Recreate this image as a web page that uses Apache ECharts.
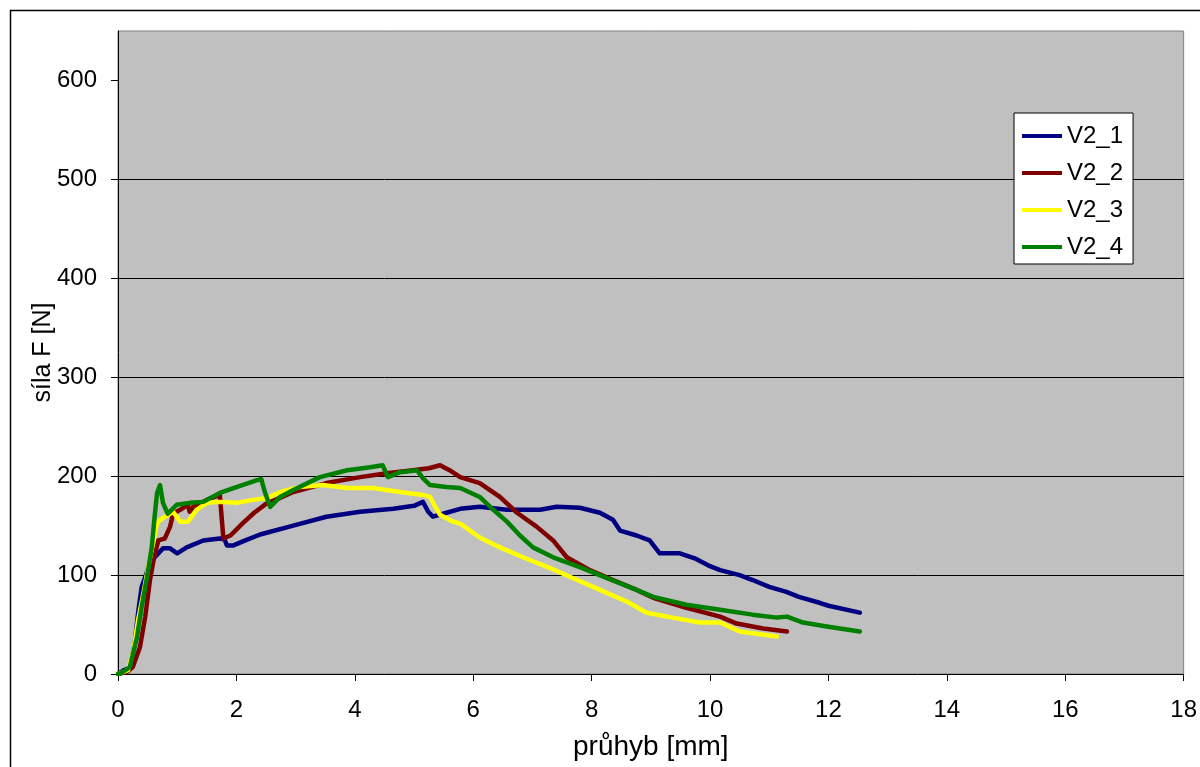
<!DOCTYPE html>
<html>
<head>
<meta charset="utf-8">
<script src="https://cdn.jsdelivr.net/npm/echarts@6/dist/echarts.min.js"></script>
<style>
html,body{margin:0;padding:0;background:#fff;}
#chart{width:1200px;height:767px;}
</style>
</head>
<body>
<div id="chart"></div>
<script>
const seriesNames = ['V2_1', 'V2_2', 'V2_3', 'V2_4'];
const seriesColors = ['#000080', '#800000', '#FFFF00', '#008000'];

const v21x = [0, 0.1, 0.2, 0.28, 0.34, 0.4, 0.5, 0.62, 0.76, 0.88, 1.0, 1.16, 1.44, 1.72, 1.8, 1.84, 1.95, 2.11, 2.4, 2.96, 3.52, 4.09, 4.65, 5.0, 5.15, 5.24, 5.32, 5.55, 5.78, 6.11, 6.57, 7.13, 7.41, 7.8, 8.14, 8.36, 8.48, 8.76, 8.98, 9.15, 9.49, 9.74, 10.0, 10.17, 10.5, 10.72, 11.0, 11.29, 11.5, 11.85, 12.0, 12.53];
const v21y = [0, 4, 6, 30, 62, 88, 105, 118, 127, 127, 122, 128, 135, 137, 136, 130, 130, 134, 141, 150, 159, 164, 167, 170, 174, 164, 159, 163, 167, 169, 166, 166, 169, 168, 163, 156, 145, 140, 135, 122, 122, 117, 109, 105, 100, 95, 88, 83, 78, 72, 69, 62];

const v22x = [0, 0.15, 0.25, 0.37, 0.46, 0.54, 0.6, 0.68, 0.79, 0.88, 0.93, 1.05, 1.18, 1.21, 1.27, 1.5, 1.72, 1.78, 1.9, 2.1, 2.3, 2.5, 2.7, 2.96, 3.52, 4.09, 4.54, 4.98, 5.25, 5.44, 5.6, 5.78, 6.11, 6.45, 6.74, 7.07, 7.35, 7.58, 7.97, 8.36, 8.76, 9.04, 9.6, 10.17, 10.45, 10.9, 11.3];
const v22y = [0, 2, 7, 27, 58, 95, 115, 135, 137, 149, 162, 166, 171, 164, 169, 176, 181, 137, 140, 152, 163, 172, 177, 184, 193, 199, 203, 206, 208, 211, 206, 199, 193, 179, 163, 149, 135, 118, 105, 95, 85, 77, 67, 58, 51, 46, 43];

const v23x = [0, 0.03, 0.17, 0.26, 0.34, 0.43, 0.51, 0.6, 0.66, 0.7, 0.79, 0.93, 1.05, 1.18, 1.33, 1.5, 1.72, 2.0, 2.28, 2.52, 2.74, 3.07, 3.46, 3.87, 4.31, 4.76, 5.15, 5.27, 5.35, 5.44, 5.66, 5.78, 6.11, 6.45, 6.84, 7.3, 7.68, 8.14, 8.6, 8.93, 9.37, 9.83, 10.17, 10.5, 11.13];
const v23y = [0, 1, 4, 24, 55, 82, 108, 135, 152, 155, 159, 164, 154, 154, 166, 173, 174, 173, 176, 178, 184, 189, 191, 188, 188, 184, 181, 179, 170, 161, 154, 152, 138, 128, 118, 107, 97, 85, 73, 62, 57, 52, 52, 43, 38];

const v24x = [0, 0.05, 0.2, 0.32, 0.4, 0.49, 0.57, 0.62, 0.66, 0.71, 0.73, 0.76, 0.84, 0.99, 1.21, 1.44, 1.72, 2.0, 2.35, 2.42, 2.48, 2.57, 2.74, 2.96, 3.41, 3.87, 4.26, 4.47, 4.56, 4.76, 5.05, 5.15, 5.27, 5.55, 5.78, 6.11, 6.34, 6.57, 6.79, 7.01, 7.35, 7.8, 8.26, 8.76, 9.04, 9.6, 10.17, 10.72, 11.13, 11.3, 11.57, 11.97, 12.53];
const v24y = [0, 1, 7, 37, 68, 98, 128, 160, 183, 191, 192, 173, 162, 171, 173, 174, 183, 189, 196, 197, 184, 169, 179, 186, 199, 206, 209, 211, 199, 204, 206, 198, 191, 189, 188, 179, 166, 154, 140, 128, 118, 108, 97, 85, 78, 70, 65, 60, 57, 58, 52, 48, 43];

const xTicks = [0, 2, 4, 6, 8, 10, 12, 14, 16, 18];
const yTicks = [0, 100, 200, 300, 400, 500, 600];

const allX = [v21x, v22x, v23x, v24x];
const allY = [v21y, v22y, v23y, v24y];

const FONT = 'Liberation Sans, Arial, sans-serif';

const chart = echarts.init(document.getElementById('chart'));
chart.setOption({
  animation: false,
  backgroundColor: '#ffffff',
  graphic: [{
    type: 'rect',
    shape: { x: 10.5, y: 10.5, width: 1300, height: 900 },
    style: { fill: 'none', stroke: '#000', lineWidth: 1.5 },
    z: -10
  }],
  grid: {
    left: 118, top: 31, right: 16, bottom: 93,
    show: true, backgroundColor: '#c0c0c0', borderColor: '#808080', borderWidth: 1
  },
  legend: {
    orient: 'vertical',
    left: 1014, top: 113,
    padding: [11, 10, 5, 8],
    itemGap: 13,
    itemWidth: 40, itemHeight: 4,
    icon: 'rect',
    backgroundColor: '#ffffff',
    borderColor: '#000', borderWidth: 1,
    textStyle: { fontFamily: FONT, fontSize: 24, color: '#000', lineHeight: 23 },
    data: seriesNames
  },
  xAxis: {
    type: 'value', min: 0, max: 18, interval: 2,
    name: 'průhyb [mm]', nameLocation: 'middle', nameGap: 59,
    nameTextStyle: { fontFamily: FONT, fontSize: 28, color: '#000' },
    axisLine: { lineStyle: { color: '#000', width: 1 } },
    axisTick: { show: true, inside: false, length: 7, lineStyle: { color: '#000' }, customValues: xTicks },
    axisLabel: { fontFamily: FONT, fontSize: 24, color: '#000', margin: 24, customValues: xTicks },
    splitLine: { show: false }
  },
  yAxis: {
    type: 'value', min: 0, max: 650, interval: 100,
    name: 'síla F [N]', nameLocation: 'middle', nameGap: 62,
    nameMoveOverlap: false,
    nameTextStyle: { fontFamily: FONT, fontSize: 25, color: '#000' },
    axisLine: { show: true, lineStyle: { color: '#000', width: 1 } },
    axisTick: { show: true, inside: false, length: 7, lineStyle: { color: '#000' }, customValues: yTicks },
    axisLabel: { fontFamily: FONT, fontSize: 24, color: '#000', margin: 21, customValues: yTicks },
    splitLine: { show: true, showMaxLine: false, showMinLine: false, lineStyle: { color: '#000', width: 1 } }
  },
  series: seriesNames.map((name, i) => ({
    name: name,
    type: 'line',
    showSymbol: false,
    symbol: 'none',
    color: seriesColors[i],
    lineStyle: { width: 4.5, color: seriesColors[i], cap: 'round', join: 'round' },
    data: allX[i].map((x, j) => [x, allY[i][j]])
  }))
});
</script>
</body>
</html>
